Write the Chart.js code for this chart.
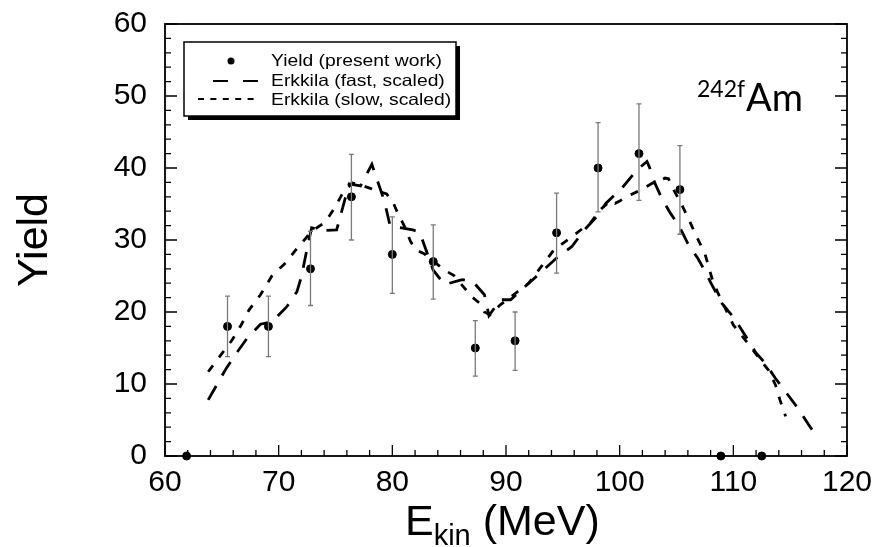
<!DOCTYPE html>
<html>
<head>
<meta charset="utf-8">
<script src="https://cdn.jsdelivr.net/npm/chart.js@4.4.1/dist/chart.umd.min.js"></script>
<style>
  html, body { margin: 0; padding: 0; background: #fff; }
  #wrap { width: 880px; height: 547px; position: relative; }
</style>
</head>
<body>
<div id="wrap"><canvas id="yieldChart"></canvas></div>
<script>
// measured points (present work)
const pointE = [61.9, 65.5, 69.1, 72.8, 76.4, 80.0, 83.6, 87.3, 90.8, 94.45, 98.1, 101.7, 105.3, 108.9, 112.5];
const pointYield = [0, 18, 18, 26, 36, 28, 27, 15, 16, 31, 40, 42, 37, 0, 0];
const errLow = [null, 13.8, 13.8, 20.9, 30.0, 22.6, 21.8, 11.1, 11.9, 25.4, 33.9, 35.5, 30.8, null, null];
const errHigh = [null, 22.2, 22.2, 31.2, 41.9, 33.2, 32.1, 18.8, 20.0, 36.5, 46.3, 48.9, 43.1, null, null];

// Erkkila fast, scaled (long dashes)
const fastE = [63.8, 65.4, 66.2, 67.2, 68.4, 69.3, 69.7, 70.7, 71.6, 72.0, 72.5, 72.9, 73.8, 75.1, 76.2, 77.2, 78.2, 79.3, 79.8, 80.4,
  81.8, 82.4, 83.6, 84.6, 85.9, 86.2, 87.1, 88.1, 88.5, 89.5, 90.4, 92.0, 93.0, 94.45, 95.8, 96.9, 97.95, 98.8, 100.3, 101.5,
  102.4, 102.6, 103.1, 103.7, 104.4, 105.3, 106.0, 106.9, 107.6, 108.1, 109.0, 110.1, 111.3, 112.0, 112.8, 113.7, 114.7, 115.7, 116.6, 117.3];
const fastYield = [7.8, 12.2, 14.1, 16.3, 18.3, 18.6, 19.1, 20.7, 22.8, 24.9, 28.8, 31.7, 31.3, 31.4, 37.8, 37.5, 40.5, 35.4, 32.0, 31.8,
  31.4, 31.1, 25.8, 23.8, 24.4, 24.5, 24.2, 22.4, 19.5, 21.7, 21.7, 24.0, 25.4, 27.5, 29.1, 31.4, 33.2, 35.1, 37.4, 39.7,
  40.9, 40.2, 37.9, 35.8, 33.9, 31.7, 29.5, 27.4, 25.4, 23.8, 21.2, 19.1, 16.1, 14.3, 12.9, 10.8, 8.7, 6.6, 4.4, 2.8];

// Erkkila slow, scaled (short dashes)
const slowE = [63.8, 64.9, 65.9, 66.7, 67.4, 68.4, 69.4, 70.6, 71.6, 72.9, 74.1, 74.9, 75.7, 76.5, 77.3, 78.0, 79.5, 80.1, 80.4, 81.1,
  81.6, 82.1, 82.8, 84.6, 85.4, 87.0, 87.7, 88.1, 88.6, 89.5, 91.0, 92.0, 93.1, 94.3, 94.7, 95.6, 96.9, 97.4, 98.3, 99.2,
  99.6, 100.0, 100.6, 101.8, 102.9, 104.0, 104.3, 104.6, 105.4, 106.1, 106.7, 107.5, 108.1, 108.6, 109.2, 110.0, 111.3, 112.5, 113.1, 113.7, 114.1, 114.6];
const slowYield = [11.7, 14.0, 16.1, 18.2, 20.3, 22.4, 25.0, 26.8, 28.8, 31.2, 32.5, 34.4, 36.7, 37.9, 37.6, 37.2, 36.4, 35.1, 34.0, 31.8,
  29.8, 28.6, 28.1, 25.8, 25.1, 22.1, 21.2, 20.0, 19.6, 21.0, 22.8, 24.0, 26.3, 28.8, 29.2, 30.2, 31.8, 32.3, 34.2, 35.5,
  35.1, 35.4, 36.0, 36.9, 37.9, 38.6, 38.5, 37.4, 35.1, 32.8, 30.7, 28.1, 24.8, 22.8, 20.8, 18.2, 15.6, 13.1, 11.9, 9.9, 7.8, 5.5];

const legendLabels = ['Yield (present work)', 'Erkkila (fast, scaled)', 'Erkkila (slow, scaled)'];
const xTitle = ['E', 'kin', ' (MeV)'];
const yTitle = 'Yield';
const nucleus = ['242f', 'Am'];

const FONT = '"Liberation Sans", Arial, Helvetica, sans-serif';

const toXY = (xs, ys) => xs.map((x, i) => ({ x: x, y: ys[i] }));

// error bars, drawn through the scales
const errorBars = {
  id: 'errorBars',
  afterDatasetsDraw(chart) {
    const { ctx, scales: { x, y } } = chart;
    ctx.save();
    ctx.strokeStyle = '#7a7a7a';
    ctx.lineWidth = 1.3;
    pointE.forEach((e, i) => {
      if (errLow[i] == null) return;
      const px = x.getPixelForValue(e);
      const lo = y.getPixelForValue(errLow[i]);
      const hi = y.getPixelForValue(errHigh[i]);
      ctx.beginPath();
      ctx.moveTo(px, lo); ctx.lineTo(px, hi);
      ctx.moveTo(px - 2.5, lo); ctx.lineTo(px + 2.5, lo);
      ctx.moveTo(px - 2.5, hi); ctx.lineTo(px + 2.5, hi);
      ctx.stroke();
    });
    ctx.restore();
  }
};

// frame, inward ticks, titles, legend box
const decorations = {
  id: 'decorations',
  afterDraw(chart) {
    const { ctx, chartArea: a, scales: { x, y } } = chart;
    ctx.save();

    // ticks
    ctx.strokeStyle = '#000';
    ctx.lineWidth = 1.3;
    ctx.beginPath();
    for (let v = 60; v <= 120; v += 2) {
      const px = x.getPixelForValue(v);
      const len = (v % 10 === 0) ? 11 : 6;
      ctx.moveTo(px, a.bottom); ctx.lineTo(px, a.bottom - len);
    }
    for (let v = 0; v <= 60; v += 2) {
      const py = y.getPixelForValue(v);
      const len = (v % 10 === 0) ? 12 : 6;
      ctx.moveTo(a.left, py); ctx.lineTo(a.left + len, py);
      ctx.moveTo(a.right, py); ctx.lineTo(a.right - len, py);
    }
    ctx.stroke();

    // frame
    ctx.lineWidth = 1.8;
    ctx.strokeRect(a.left, a.top, a.right - a.left, a.bottom - a.top);

    // y title
    ctx.fillStyle = '#000';
    ctx.save();
    ctx.translate(47, 240);
    ctx.rotate(-Math.PI / 2);
    ctx.font = '43px ' + FONT;
    ctx.textAlign = 'center';
    ctx.textBaseline = 'alphabetic';
    ctx.fillText(yTitle, 0, 0);
    ctx.restore();

    // x title with subscript
    ctx.textAlign = 'left';
    ctx.textBaseline = 'alphabetic';
    let tx = 405;
    ctx.font = '43px ' + FONT;
    ctx.fillText(xTitle[0], tx, 535);
    tx += ctx.measureText(xTitle[0]).width;
    ctx.font = '29px ' + FONT;
    ctx.fillText(xTitle[1], tx, 545);
    tx += ctx.measureText(xTitle[1]).width;
    ctx.font = '43px ' + FONT;
    ctx.fillText(xTitle[2], tx, 535);

    // nucleus label
    ctx.font = '23px Lato, "Open Sans", sans-serif';
    ctx.fillText(nucleus[0], 697, 97);
    ctx.font = '38px Lato, "Open Sans", sans-serif';
    ctx.fillText(nucleus[1], 746, 111);

    // legend box with shadow
    const bx = 184, by = 42, bw = 272, bh = 74;
    ctx.fillStyle = '#000';
    ctx.fillRect(bx + 4, by + 4, bw, bh);
    ctx.fillStyle = '#fff';
    ctx.fillRect(bx, by, bw, bh);
    ctx.lineWidth = 1.5;
    ctx.strokeStyle = '#000';
    ctx.strokeRect(bx, by, bw, bh);

    ctx.fillStyle = '#000';
    ctx.beginPath();
    ctx.arc(231, 61, 3.5, 0, Math.PI * 2);
    ctx.fill();

    ctx.lineWidth = 2;
    ctx.setLineDash([15, 15]);
    ctx.beginPath();
    ctx.moveTo(213, 81); ctx.lineTo(258, 81);
    ctx.stroke();
    ctx.setLineDash([6, 6.4]);
    ctx.beginPath();
    ctx.moveTo(198, 99); ctx.lineTo(260, 99);
    ctx.stroke();
    ctx.setLineDash([]);

    ctx.font = '16.5px ' + FONT;
    const rowsY = [66, 86, 105];
    legendLabels.forEach((t, i) => {
      ctx.save();
      ctx.translate(271, rowsY[i]);
      ctx.scale(1.17, 1);
      ctx.fillText(t, 0, 0);
      ctx.restore();
    });

    ctx.restore();
  }
};

const ctx = document.getElementById('yieldChart').getContext('2d');
new Chart(ctx, {
  data: {
    datasets: [
      {
        type: 'line',
        label: legendLabels[1],
        data: toXY(fastE, fastYield),
        borderColor: '#000',
        borderWidth: 2.8,
        borderDash: [16, 12],
        pointRadius: 0,
        tension: 0,
        fill: false
      },
      {
        type: 'line',
        label: legendLabels[2],
        data: toXY(slowE, slowYield),
        borderColor: '#000',
        borderWidth: 2.8,
        borderDash: [8, 10],
        pointRadius: 0,
        tension: 0,
        fill: false
      },
      {
        type: 'scatter',
        label: legendLabels[0],
        data: toXY(pointE, pointYield),
        backgroundColor: '#000',
        borderColor: '#000',
        pointRadius: 4,
        clip: false
      }
    ]
  },
  options: {
    responsive: true,
    maintainAspectRatio: false,
    animation: false,
    layout: { autoPadding: false, padding: { top: 24, right: 33, left: 0, bottom: 0 } },
    plugins: {
      legend: { display: false },
      tooltip: { enabled: false }
    },
    scales: {
      x: {
        type: 'linear',
        min: 60,
        max: 120,
        grid: { display: false, drawTicks: false },
        border: { display: false },
        ticks: {
          stepSize: 10,
          color: '#000',
          padding: 9,
          maxRotation: 0,
          font: { size: 30, family: FONT }
        },
        afterFit(scale) {
          scale.height = 91;
          scale.paddingLeft = 0;
          scale.paddingRight = 0;
        }
      },
      y: {
        type: 'linear',
        min: 0,
        max: 60,
        grid: { display: false, drawTicks: false },
        border: { display: false },
        ticks: {
          stepSize: 10,
          color: '#000',
          padding: 18,
          font: { size: 30, family: FONT }
        },
        afterFit(scale) {
          scale.width = 165;
          scale.paddingTop = 0;
          scale.paddingBottom = 0;
        }
      }
    }
  },
  plugins: [errorBars, decorations]
});
</script>
</body>
</html>
